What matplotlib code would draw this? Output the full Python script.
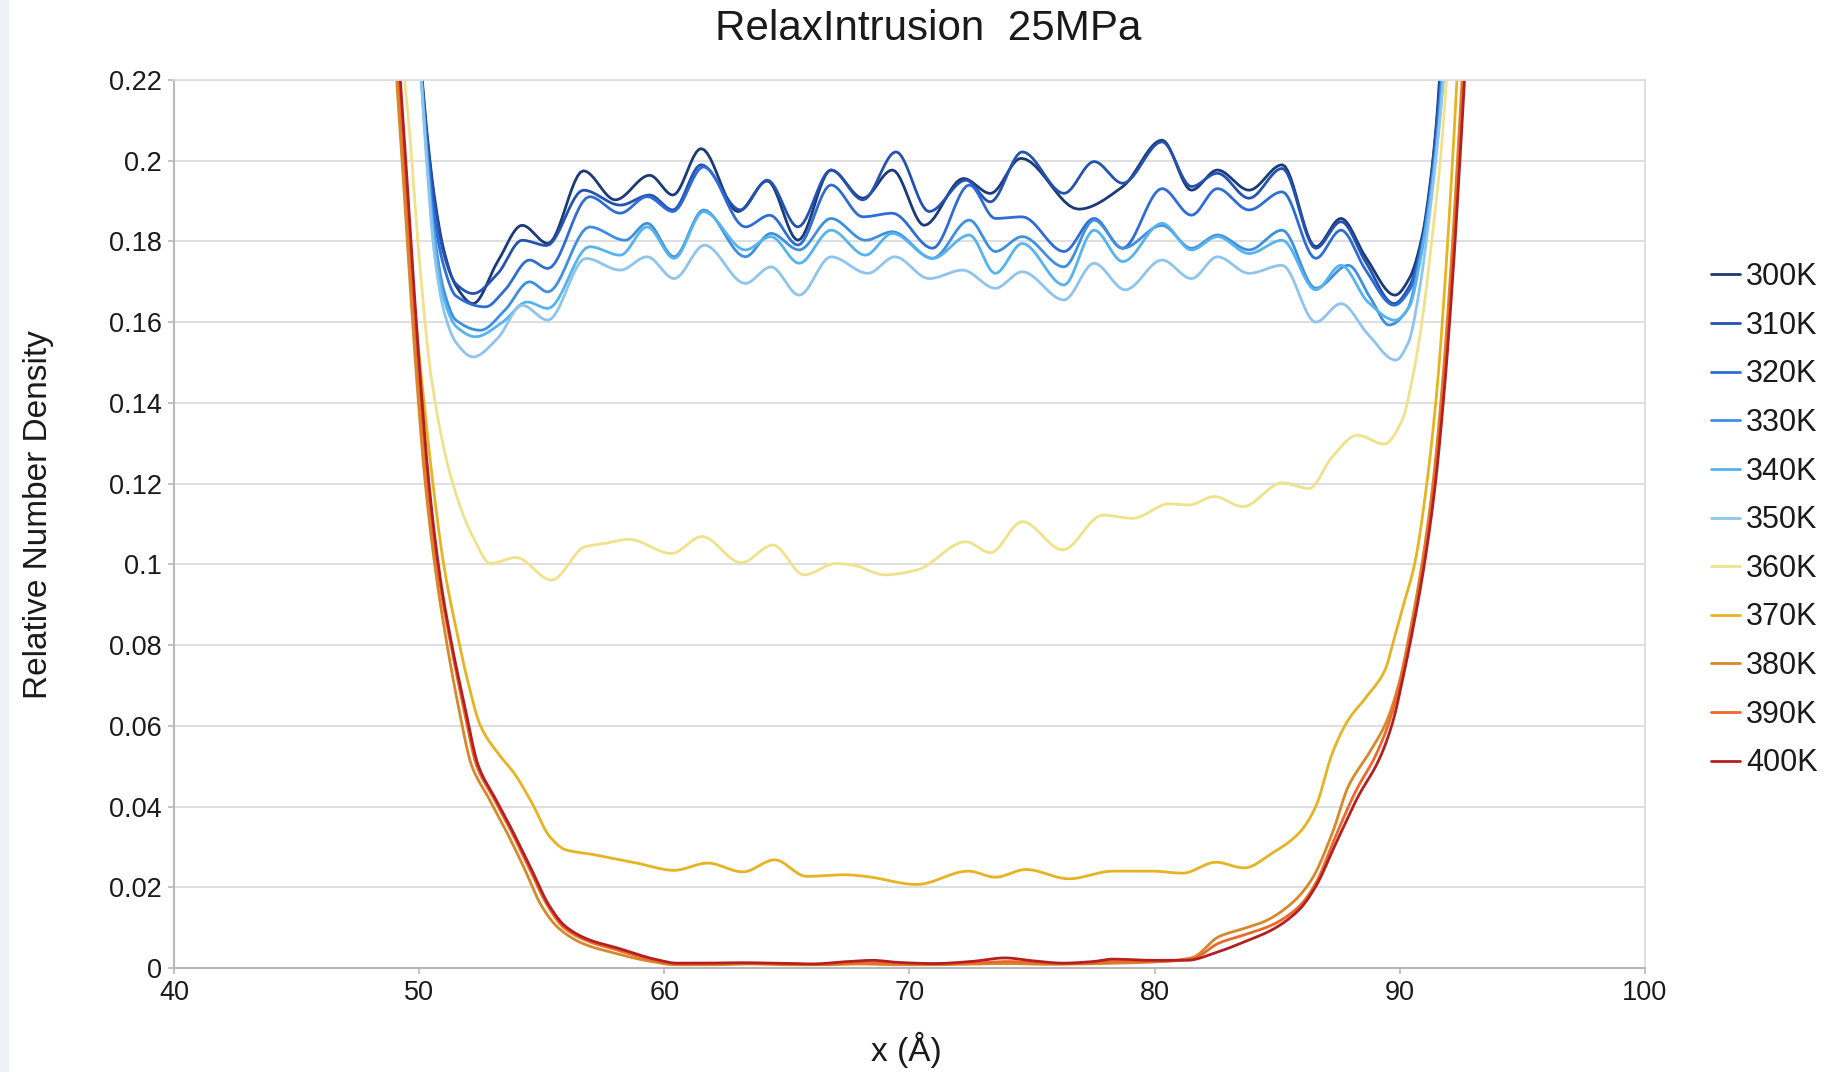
import numpy as np
import matplotlib
matplotlib.use("Agg")
import matplotlib.pyplot as plt
from matplotlib.patches import Rectangle
from matplotlib.ticker import FuncFormatter, MultipleLocator

plt.rcParams['font.family'] = ['Liberation Sans', 'DejaVu Sans']

# values (x in Angstrom, relative number density)
x300 = [49.95, 50.3, 50.6, 51.0, 51.5, 52.2, 53.2, 54.2, 55.25, 56.7, 58.0, 59.4, 60.35, 61.5, 63.0, 64.2, 65.45, 66.8, 68.1, 69.3,
        70.6, 72.2, 73.3, 74.55, 76.9, 78.7, 80.3, 81.5, 82.56, 83.85, 85.2, 86.57, 87.6, 88.6, 89.8, 90.4, 90.9, 91.25, 91.5, 91.7]
y300 = [0.232, 0.208, 0.192, 0.178, 0.169, 0.1646, 0.175, 0.184, 0.1795, 0.1975, 0.1903, 0.1964, 0.1915, 0.203, 0.1874, 0.195, 0.1803, 0.1977, 0.1907, 0.1977,
        0.184, 0.1956, 0.1919, 0.2006, 0.188, 0.1936, 0.2051, 0.1927, 0.1977, 0.1927, 0.199, 0.1787, 0.1857, 0.1762, 0.1667, 0.171, 0.181, 0.195, 0.21, 0.228]

x310 = [49.95, 50.3, 50.6, 51.0, 51.5, 52.2, 53.2, 54.2, 55.2, 56.7, 58.2, 59.4, 60.35, 61.5, 63.1, 64.2, 65.45, 66.8, 68.1, 69.45,
        70.8, 72.3, 73.3, 74.6, 76.3, 77.53, 78.7, 80.3, 81.5, 82.56, 83.85, 85.2, 86.57, 87.6, 88.6, 89.76, 90.4, 90.9, 91.25, 91.5, 91.75]
y310 = [0.232, 0.207, 0.191, 0.177, 0.1695, 0.1671, 0.172, 0.1803, 0.179, 0.1927, 0.189, 0.1915, 0.1878, 0.199, 0.1878, 0.1952, 0.1836, 0.1977, 0.1903, 0.2022,
        0.1874, 0.1952, 0.1898, 0.2022, 0.1919, 0.1998, 0.1944, 0.2047, 0.1936, 0.1969, 0.1907, 0.1981, 0.1783, 0.1849, 0.175, 0.1646, 0.169, 0.18, 0.194, 0.209, 0.228]

x320 = [49.95, 50.3, 50.6, 51.0, 51.5, 52.7, 53.5, 54.5, 55.25, 56.95, 58.2, 59.3, 60.35, 61.6, 63.3, 64.3, 65.45, 66.8, 68.1, 69.3,
        70.94, 72.44, 73.5, 74.6, 76.3, 77.53, 78.69, 80.3, 81.5, 82.56, 83.85, 85.2, 86.57, 87.6, 88.6, 89.76, 90.4, 90.9, 91.3, 91.55, 91.8]
y320 = [0.232, 0.205, 0.187, 0.174, 0.1665, 0.1638, 0.168, 0.1754, 0.1733, 0.1911, 0.187, 0.1911, 0.1874, 0.1985, 0.1836, 0.1865, 0.1791, 0.194, 0.1861, 0.187,
        0.1783, 0.194, 0.1857, 0.1861, 0.1775, 0.1857, 0.1783, 0.1931, 0.1865, 0.1931, 0.1878, 0.1923, 0.1758, 0.1828, 0.173, 0.1642, 0.168, 0.179, 0.194, 0.209, 0.228]

x330 = [49.95, 50.3, 50.6, 51.0, 51.5, 52.5, 53.5, 54.5, 55.25, 56.95, 58.4, 59.3, 60.4, 61.6, 63.3, 64.35, 65.5, 66.8, 68.2, 69.3,
        70.94, 72.44, 73.5, 74.6, 76.3, 77.53, 78.7, 80.3, 81.5, 82.56, 83.85, 85.2, 86.57, 87.9, 88.8, 89.56, 90.3, 90.8, 91.25, 91.55, 91.8]
y330 = [0.232, 0.203, 0.183, 0.168, 0.1605, 0.158, 0.163, 0.17, 0.1675, 0.1836, 0.1803, 0.1845, 0.1762, 0.1878, 0.1762, 0.182, 0.1779, 0.1857, 0.1803, 0.1824,
        0.1758, 0.1853, 0.1775, 0.1812, 0.1737, 0.1853, 0.1783, 0.184, 0.1783, 0.1816, 0.1779, 0.1828, 0.1684, 0.1741, 0.166, 0.1593, 0.163, 0.175, 0.192, 0.208, 0.228]

x340 = [49.95, 50.3, 50.6, 51.0, 51.5, 52.3, 53.4, 54.4, 55.25, 56.95, 58.2, 59.3, 60.4, 61.6, 63.3, 64.35, 65.5, 66.8, 68.2, 69.3,
        70.94, 72.44, 73.5, 74.6, 76.3, 77.53, 78.7, 80.3, 81.5, 82.56, 83.85, 85.2, 86.57, 87.6, 88.7, 89.8, 90.4, 90.85, 91.3, 91.6, 91.85]
y340 = [0.232, 0.202, 0.181, 0.166, 0.159, 0.1564, 0.16, 0.165, 0.1634, 0.1787, 0.1766, 0.1836, 0.1758, 0.1874, 0.1779, 0.1812, 0.1746, 0.1828, 0.1766, 0.182,
        0.1758, 0.1816, 0.1721, 0.1795, 0.1692, 0.1828, 0.175, 0.1845, 0.1779, 0.1812, 0.177, 0.1803, 0.168, 0.1741, 0.165, 0.1605, 0.164, 0.176, 0.193, 0.209, 0.228]

x350 = [49.95, 50.3, 50.6, 51.0, 51.5, 52.2, 53.2, 54.2, 55.25, 56.8, 58.2, 59.3, 60.4, 61.64, 63.3, 64.35, 65.5, 66.8, 68.3, 69.4,
        70.8, 72.17, 73.5, 74.6, 76.3, 77.53, 78.8, 80.3, 81.5, 82.56, 83.85, 85.2, 86.57, 87.6, 88.7, 89.83, 90.35, 90.8, 91.2, 91.55, 91.9]
y350 = [0.232, 0.2, 0.178, 0.163, 0.155, 0.1514, 0.156, 0.1642, 0.1605, 0.1758, 0.1729, 0.1762, 0.1708, 0.1791, 0.1696, 0.1737, 0.1667, 0.1762, 0.1721, 0.1762,
        0.1708, 0.1729, 0.1684, 0.1725, 0.1655, 0.1746, 0.168, 0.1754, 0.1708, 0.1762, 0.1721, 0.1741, 0.16, 0.1646, 0.157, 0.1506, 0.155, 0.168, 0.186, 0.205, 0.228]

x360 = [49.2, 49.6, 50.0, 50.5, 51.37, 52.26, 52.9, 53.95, 55.4, 56.77, 57.6, 58.55, 60.3, 61.53, 63.14, 64.43, 65.7, 67.0, 67.7, 69.0,
        70.3, 72.3, 73.3, 74.6, 76.25, 77.88, 79.1, 80.6, 81.4, 82.43, 83.6, 85.2, 86.3, 87.25, 88.27, 89.36, 90.1, 90.5, 90.9, 91.3, 91.65, 92.0]
y360 = [0.232, 0.2076, 0.176, 0.146, 0.12, 0.106, 0.1002, 0.1017, 0.0961, 0.1044, 0.1052, 0.1062, 0.1027, 0.1069, 0.1004, 0.1048, 0.0974, 0.1002, 0.0998, 0.0974,
        0.0986, 0.1056, 0.1029, 0.1106, 0.1036, 0.1122, 0.1114, 0.115, 0.1147, 0.1168, 0.1143, 0.1202, 0.1188, 0.1267, 0.132, 0.1298, 0.1358, 0.1457, 0.16, 0.18, 0.2, 0.228]

x370 = [49.05, 49.4, 49.8, 50.2, 50.6, 51.0, 51.6, 52.0, 52.5, 53.2, 53.87, 54.6, 55.32, 55.97, 57.1, 58.87, 60.4, 61.77, 63.2, 64.5,
        65.8, 67.4, 68.2, 70.3, 72.4, 73.5, 74.75, 76.5, 78.3, 79.9, 81.14, 82.5, 83.65, 84.8, 85.9, 86.57, 87.25, 87.9, 88.6, 89.4,
        89.76, 90.15, 90.6, 91.1, 91.55, 91.9, 92.15, 92.4]
y370 = [0.232, 0.2, 0.165, 0.14, 0.118, 0.1, 0.0814, 0.0706, 0.06, 0.0533, 0.0483, 0.0409, 0.0326, 0.0293, 0.0281, 0.026, 0.0242, 0.026, 0.0238, 0.0268,
        0.0227, 0.0231, 0.0227, 0.0207, 0.024, 0.0225, 0.0244, 0.0221, 0.024, 0.024, 0.0235, 0.0262, 0.0248, 0.0285, 0.0335, 0.04, 0.0533, 0.0615, 0.0669, 0.0739,
        0.0814, 0.09, 0.1, 0.12, 0.1457, 0.175, 0.2, 0.228]

x380 = [48.95, 49.25, 49.6, 49.9, 50.25, 50.7, 51.1, 51.6, 52.15, 52.8, 53.45, 54.25, 55.0, 55.7, 56.7, 57.9, 59.3, 60.5, 62.0, 63.5,
        65.0, 66.5, 68.0, 69.5, 71.0, 72.5, 74.0, 75.5, 77.0, 78.5, 80.0, 81.5, 82.63, 83.7, 84.5, 85.6, 86.4, 87.25, 87.9, 88.75,
        89.43, 89.97, 90.35, 90.9, 91.35, 91.75, 92.1, 92.35, 92.65]
y380 = [0.232, 0.205, 0.172, 0.1457, 0.12, 0.097, 0.0814, 0.0648, 0.05, 0.0425, 0.0351, 0.0252, 0.0153, 0.0098, 0.006, 0.0038, 0.0018, 0.0008, 0.0008, 0.001,
        0.0008, 0.0008, 0.001, 0.0008, 0.0008, 0.001, 0.0011, 0.0009, 0.001, 0.0012, 0.0015, 0.0025, 0.0078, 0.0099, 0.0116, 0.0161, 0.0219, 0.0335, 0.045, 0.0533,
        0.0607, 0.0706, 0.0814, 0.1, 0.12, 0.1457, 0.175, 0.2, 0.232]

x390 = [49.05, 49.35, 49.7, 50.0, 50.35, 50.8, 51.25, 51.8, 52.35, 53.0, 53.65, 54.45, 55.25, 55.9, 56.9, 58.0, 59.5, 60.5, 62.0, 63.5,
        65.0, 66.5, 68.0, 69.5, 71.0, 72.5, 74.0, 75.5, 77.0, 78.5, 80.0, 81.5, 82.63, 83.7, 84.8, 85.9, 86.57, 87.35, 88.2, 89.0,
        89.55, 90.05, 90.4, 90.95, 91.4, 91.8, 92.15, 92.4, 92.7]
y390 = [0.232, 0.205, 0.172, 0.1457, 0.12, 0.097, 0.0814, 0.0648, 0.05, 0.0425, 0.0351, 0.0252, 0.0153, 0.01, 0.0066, 0.0046, 0.002, 0.001, 0.0011, 0.0012,
        0.001, 0.0009, 0.0013, 0.0011, 0.001, 0.0012, 0.0016, 0.0012, 0.0011, 0.0016, 0.0016, 0.0022, 0.0062, 0.0083, 0.0107, 0.0153, 0.021, 0.0322, 0.0438, 0.0525,
        0.0607, 0.0715, 0.0814, 0.1, 0.12, 0.1457, 0.175, 0.2, 0.232]

x400 = [49.1, 49.4, 49.75, 50.05, 50.4, 50.85, 51.29, 51.86, 52.42, 53.06, 53.71, 54.52, 55.32, 55.97, 56.93, 58.06, 59.67, 60.5, 61.5, 63.0,
        64.5, 66.0, 67.5, 68.5, 69.5, 71.0, 72.5, 73.9, 75.0, 76.25, 77.5, 78.3, 79.9, 81.3, 82.63, 83.7, 84.8, 85.9, 86.57, 87.4,
        88.3, 89.15, 89.7, 90.17, 90.45, 91.0, 91.45, 91.85, 92.2, 92.45, 92.75]
y400 = [0.232, 0.205, 0.172, 0.1457, 0.12, 0.097, 0.0814, 0.0648, 0.05, 0.0425, 0.0351, 0.0252, 0.0153, 0.0103, 0.007, 0.005, 0.0021, 0.0012, 0.0012, 0.0013,
        0.0012, 0.001, 0.0016, 0.0019, 0.0014, 0.0011, 0.0016, 0.0025, 0.0018, 0.0012, 0.0016, 0.0022, 0.0019, 0.0019, 0.0041, 0.0066, 0.0095, 0.0145, 0.0202, 0.031,
        0.0425, 0.0516, 0.0607, 0.0731, 0.0814, 0.1, 0.12, 0.1457, 0.175, 0.2, 0.232]

labels = ['300K', '310K', '320K', '330K', '340K', '350K', '360K', '370K', '380K', '390K', '400K']
xs = [x300, x310, x320, x330, x340, x350, x360, x370, x380, x390, x400]
ys = [y300, y310, y320, y330, y340, y350, y360, y370, y380, y390, y400]
colors = ['#1b3a78', '#2552b0', '#2e6cd6', '#3f8fe0', '#55b3ee', '#8ec4ee',
          '#efe28a', '#e6b322', '#d6882a', '#ee682b', '#b42020']


def smooth(x, y, n=12):
    # monotone cubic (pchip) through the read points, like the smoothed lines of the original
    x = np.asarray(x, float)
    y = np.asarray(y, float)
    h = np.diff(x)
    d = np.diff(y) / h
    m = np.zeros_like(y)
    m[0], m[-1] = d[0], d[-1]
    for k in range(1, len(x) - 1):
        if d[k - 1] * d[k] > 0:
            w1 = 2 * h[k] + h[k - 1]
            w2 = h[k] + 2 * h[k - 1]
            m[k] = (w1 + w2) / (w1 / d[k - 1] + w2 / d[k])
    xx, yy = [], []
    for k in range(len(x) - 1):
        t = np.linspace(0, 1, n, endpoint=False)
        h00 = 2 * t**3 - 3 * t**2 + 1
        h10 = t**3 - 2 * t**2 + t
        h01 = -2 * t**3 + 3 * t**2
        h11 = t**3 - t**2
        xx.append(x[k] + t * h[k])
        yy.append(h00 * y[k] + h10 * h[k] * m[k] + h01 * y[k + 1] + h11 * h[k] * m[k + 1])
    xx.append([x[-1]])
    yy.append([y[-1]])
    return np.concatenate(xx), np.concatenate(yy)


fig = plt.figure(figsize=(18.43, 10.72), dpi=100)
fig.patches.append(Rectangle((0, 0), 8 / 1843, 1, transform=fig.transFigure, color='#eef1f5', zorder=0))
ax = fig.add_axes([174 / 1843, 1 - 968 / 1072, 1471 / 1843, 888 / 1072])

for x, y, c, lab in zip(xs, ys, colors, labels):
    sx, sy = smooth(x, y)
    ax.plot(sx, sy, color=c, lw=2.0, label=lab, solid_capstyle='round')

ax.set_xlim(40, 100)
ax.set_ylim(0, 0.22)
ax.xaxis.set_major_locator(MultipleLocator(10))
ax.yaxis.set_major_locator(MultipleLocator(0.02))
ax.yaxis.set_major_formatter(FuncFormatter(lambda v, p: '{:g}'.format(round(v, 2))))
ax.grid(axis='y', color='#dcdcdc', lw=1.3)
ax.set_axisbelow(True)
for s in ['top', 'right']:
    ax.spines[s].set_color('#dcdcdc')
    ax.spines[s].set_linewidth(1.3)
for s in ['left', 'bottom']:
    ax.spines[s].set_color('#b8b8b8')
    ax.spines[s].set_linewidth(1.5)
ax.tick_params(axis='both', direction='out', length=4, width=1.2, color='#b8b8b8',
               labelsize=19.5, labelcolor='#1a1a1a', pad=5)

ax.set_ylabel('Relative Number Density', fontsize=24, color='#1a1a1a', va='center')
ax.yaxis.set_label_coords(-0.092, 0.511)
ax.set_xlabel('x (Å)', fontsize=24, color='#1a1a1a', va='center')
ax.xaxis.set_label_coords(0.498, -0.092)

fig.text(0.5035, 0.973, 'RelaxIntrusion  25MPa', fontsize=30.3, ha='center', va='center', color='#1a1a1a')

ax.legend(loc='upper left', bbox_to_anchor=(1711 / 1843, 1 - 262 / 1072), bbox_transform=fig.transFigure,
          frameon=False, fontsize=22, handlelength=0.95, handletextpad=0.2, labelspacing=0.61,
          borderpad=0, borderaxespad=0, labelcolor='#1a1a1a')

fig.savefig('out.png', dpi=100, facecolor='white')
